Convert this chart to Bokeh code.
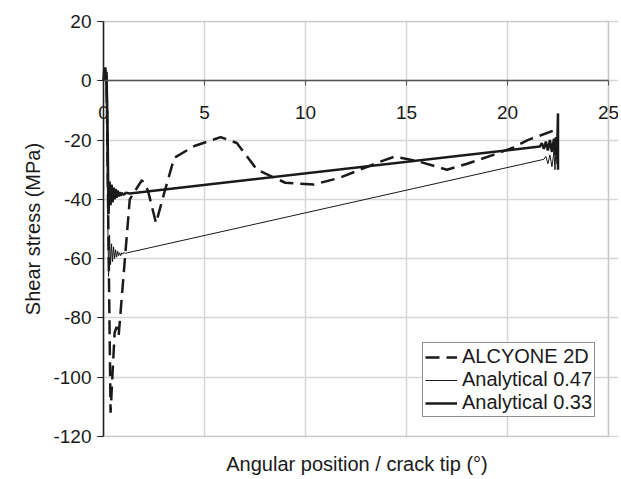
from bokeh.plotting import figure
from bokeh.models import (Range1d, FixedTicker, Legend, LegendItem, Title, Label,
                          BoxAnnotation, LinearAxis)
from bokeh.embed import file_html
from bokeh.resources import INLINE

# ---- data ----
alc_x = [0.0, 0.15, 0.35, 0.55, 0.65, 0.75, 1.3, 1.9, 2.2, 2.6, 3.0, 3.5, 4.5, 5.8, 6.6, 7.6,
         9.0, 10.4, 11.7, 12.7, 13.7, 14.4, 15.5, 17.0, 18.0, 19.3, 20.3, 21.0, 22.4]
alc_y = [0.0, 2.0, -112.0, -85.0, -83.0, -86.0, -40.0, -33.5, -37.0, -48.0, -38.0, -26.0, -22.0,
         -19.0, -21.0, -30.0, -34.4, -35.0, -32.7, -30.0, -27.3, -25.6, -27.0, -30.0, -28.0,
         -25.0, -22.5, -20.0, -16.5]

a047_x = [0.0, 0.05, 0.1, 0.15, 0.2, 0.25, 0.3, 0.35, 0.4, 0.45, 0.5, 0.55, 0.6, 0.65, 0.7,
          0.75, 0.8, 0.85, 0.9, 0.95, 1.0, 1.1, 1.2, 21.8, 21.9, 22.0, 22.1, 22.2, 22.3, 22.35,
          22.4, 22.45, 22.5]
a047_y = [0.0, 2.0, 1.0, -10.0, -40.0, -66.0, -52.0, -62.0, -55.0, -61.0, -56.0, -60.0, -57.0,
          -59.5, -57.5, -59.0, -58.0, -59.0, -58.0, -58.5, -58.0, -58.2, -58.0, -26.5, -25.5,
          -28.0, -25.0, -29.0, -24.0, -30.0, -23.0, -28.0, -25.0]

a033_x = [0.0, 0.03, 0.06, 0.09, 0.12, 0.15, 0.2, 0.25, 0.3, 0.35, 0.4, 0.45, 0.5, 0.55, 0.6,
          0.65, 0.7, 0.75, 0.8, 0.85, 0.9, 1.0, 1.1, 1.3, 21.6, 21.7, 21.8, 21.9, 22.0, 22.1,
          22.2, 22.3, 22.35, 22.4, 22.45, 22.5, 22.5]
a033_y = [0.0, 3.5, 1.5, 4.5, 2.0, 3.0, -15.0, -45.0, -34.0, -42.0, -35.0, -41.0, -36.0, -40.0,
          -36.5, -39.5, -37.0, -39.0, -37.5, -38.8, -37.8, -38.5, -37.8, -38.0, -22.2, -21.0,
          -23.0, -20.5, -23.5, -20.0, -24.0, -19.5, -25.0, -19.0, -26.0, -11.0, -30.0]

x_ticks = [0, 5, 10, 15, 20, 25]
y_ticks = [-120, -100, -80, -60, -40, -20, 0, 20]
series_names = ["ALCYONE 2D", "Analytical 0.47", "Analytical 0.33"]
x_title = "Angular position / crack tip (°)"
y_title = "Shear stress (MPa)"

FONT = "Liberation Sans"
INK = "#1a1a1a"

x_lo, x_hi = x_ticks[0], x_ticks[-1]
y_lo, y_hi = y_ticks[0], y_ticks[-1]

# frame a little larger than the plot box so edge tick labels/lines are not clipped
BOX_W, BOX_H = 505, 415
PAD_L, PAD_R = 8, 10
FW, FH = BOX_W + PAD_L + PAD_R, BOX_H + 2
x_per_px = (x_hi - x_lo) / BOX_W
y_per_px = (y_hi - y_lo) / BOX_H

p = figure(frame_width=FW, frame_height=FH,
           x_range=Range1d(x_lo - PAD_L * x_per_px, x_hi + PAD_R * x_per_px),
           y_range=Range1d(y_lo - y_per_px, y_hi + y_per_px),
           output_backend="svg", toolbar_location=None,
           min_border_left=103 - PAD_L, min_border_top=20, min_border_right=0,
           min_border_bottom=40,
           background_fill_color="white", border_fill_color="white")

p.outline_line_color = None

# grid
p.xgrid.ticker = FixedTicker(ticks=x_ticks)
p.ygrid.ticker = FixedTicker(ticks=y_ticks)
p.xgrid.bounds = (y_lo, y_hi)
p.ygrid.bounds = (x_lo, x_hi)
p.grid.grid_line_color = "#d6d6d6"
p.grid.grid_line_width = 1.5

# plot box border
p.add_layout(BoxAnnotation(left=x_lo, right=x_hi, bottom=y_lo, top=y_hi,
                           fill_alpha=0, line_color="#a8a8a8", line_width=1.5,
                           level="underlay"))

# x axis crossing at y = 0 (labels drawn as annotations)
xa = p.xaxis[0]
xa.fixed_location = 0
xa.bounds = (x_lo, x_hi)
xa.ticker = FixedTicker(ticks=x_ticks)
xa.axis_line_color = "#555555"
xa.axis_line_width = 1.5
xa.major_tick_line_color = "#555555"
xa.major_tick_out = 5
xa.major_tick_in = 0
xa.minor_tick_line_color = None
xa.major_label_text_font_size = "0px"
xa.major_label_text_alpha = 0

for t in x_ticks:
    p.add_layout(Label(x=t, y=0, text=str(t), x_units="data", y_units="data",
                       text_align="center", text_baseline="middle", y_offset=-32,
                       text_font=FONT, text_font_size="19px", text_color=INK))

# y axis: side axis carries labels and title, fixed axis at x = 0 carries line and ticks
ya = p.yaxis[0]
ya.ticker = FixedTicker(ticks=y_ticks)
ya.major_label_overrides = {t: str(t) for t in y_ticks}
ya.axis_line_color = None
ya.major_tick_line_color = None
ya.major_tick_out = 0
ya.major_tick_in = 0
ya.minor_tick_line_color = None
ya.major_label_standoff = 4
ya.major_label_text_font = FONT
ya.major_label_text_font_size = "19px"
ya.major_label_text_color = INK
ya.axis_label = y_title
ya.axis_label_text_font = FONT
ya.axis_label_text_font_size = "20px"
ya.axis_label_text_font_style = "normal"
ya.axis_label_text_color = INK
ya.axis_label_standoff = 6

ya0 = LinearAxis(fixed_location=0, bounds=(y_lo, y_hi), ticker=FixedTicker(ticks=y_ticks),
                 axis_line_color="#222222", axis_line_width=1.5,
                 major_tick_line_color="#222222", major_tick_out=6, major_tick_in=0,
                 minor_tick_line_color=None,
                 major_label_text_font_size="0px", major_label_text_alpha=0)
p.add_layout(ya0, "left")

p.add_layout(Title(text=x_title, align="center",
                   text_font=FONT, text_font_size="20px", text_font_style="normal",
                   text_color=INK, standoff=27), "below")

r047 = p.line(a047_x, a047_y, line_color=INK, line_width=1.0)
r033 = p.line(a033_x, a033_y, line_color=INK, line_width=2.5)
ralc = p.line(alc_x, alc_y, line_color=INK, line_width=2.5, line_dash="14 7")

legend = Legend(items=[LegendItem(label=series_names[0], renderers=[ralc]),
                       LegendItem(label=series_names[1], renderers=[r047]),
                       LegendItem(label=series_names[2], renderers=[r033])],
                location=(319 + PAD_L, 20),
                border_line_color="#222222", border_line_width=1.2,
                background_fill_color="white", background_fill_alpha=1.0,
                label_text_font=FONT, label_text_font_size="20px", label_text_color=INK,
                glyph_width=32, glyph_height=22, label_height=22, label_standoff=5,
                padding=2, spacing=0, margin=0)
p.add_layout(legend, "center")

open("out.html", "w").write(file_html(p, INLINE))
